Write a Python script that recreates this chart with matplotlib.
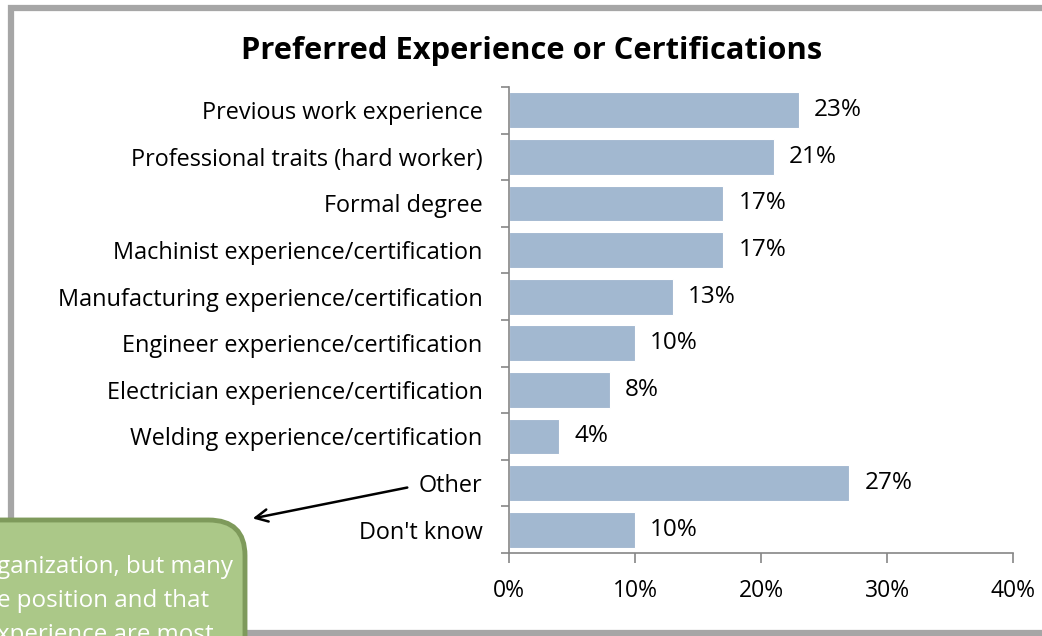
import matplotlib.pyplot as plt
from matplotlib.patches import FancyBboxPatch, Rectangle

categories = [
    "Previous work experience",
    "Professional traits (hard worker)",
    "Formal degree",
    "Machinist experience/certification",
    "Manufacturing experience/certification",
    "Engineer experience/certification",
    "Electrician experience/certification",
    "Welding experience/certification",
    "Other",
    "Don't know",
]
values = [23, 21, 17, 17, 13, 10, 8, 4, 27, 10]
xticks = [0, 10, 20, 30, 40]
callout_lines = ["ganization, but many", "e position and that", "xperience are most"]

W, H = 1042, 636
plt.rcParams["font.family"] = ["Open Sans", "DejaVu Sans"]

fig = plt.figure(figsize=(W / 100, H / 100), dpi=100)
ax = fig.add_axes([509 / W, 1 - 553 / H, (1013 - 509) / W, (553 - 87) / H])

y = list(range(len(categories)))
ax.barh(y, values, height=0.77, color="#A2B8D0", edgecolor="white", linewidth=0.8)
ax.set_ylim(len(categories) - 0.5, -0.5)
ax.set_xlim(0, 40)

for yi, v in zip(y, values):
    ax.text(v + 1.2, yi, f"{v}%", va="center", ha="left", fontsize=17.5)

ax.set_xticks(xticks)
ax.set_xticklabels([f"{t}%" for t in xticks], fontsize=16.5)
ax.set_yticks([i - 0.5 for i in range(len(categories) + 1)], minor=False)
ax.set_yticklabels([])
ax.set_yticks(y, minor=True)
ax.set_yticklabels(categories, minor=True, fontsize=16.9)
ax.tick_params(axis="y", which="minor", length=0, pad=19)
ax.tick_params(axis="y", which="major", length=6, color="#868686", width=1.2)
ax.tick_params(axis="x", length=7, color="#868686", width=1.2, pad=12)
for s in ["top", "right"]:
    ax.spines[s].set_visible(False)
for s in ["left", "bottom"]:
    ax.spines[s].set_color("#868686")
    ax.spines[s].set_linewidth(1.2)

fig.text(532 / W, 1 - 51 / H, "Preferred Experience or Certifications",
         ha="center", va="center", fontsize=22.2, fontweight="bold")

# slide frame
fig.patches.append(Rectangle((10.5 / W, 3 / H), 1.2, 1 - 3 / H - 8 / H,
                             transform=fig.transFigure, fill=False,
                             edgecolor="#A6A6A6", linewidth=4.5))

# green callout box
fig.patches.append(FancyBboxPatch((-60 / W, -60 / H), 305 / W, (636 - 520 + 60) / H,
                                  boxstyle="round,pad=0,rounding_size=0.035",
                                  transform=fig.transFigure, facecolor="#ABC888",
                                  edgecolor="#7E9A5B", linewidth=3.5, mutation_aspect=1.6))
for i, line in enumerate(callout_lines):
    fig.text(-3 / W, 1 - (567 + i * 34) / H, line, ha="left", va="center",
             fontsize=17.4, color="white")

fig.add_artist(plt.Annotation("", xy=(250 / W, 1 - 519 / H), xytext=(410 / W, 1 - 487 / H),
                              xycoords="figure fraction", textcoords="figure fraction",
                              arrowprops=dict(arrowstyle="->", color="black", lw=1.8,
                                              mutation_scale=22)))

fig.savefig("out.png", dpi=100)
